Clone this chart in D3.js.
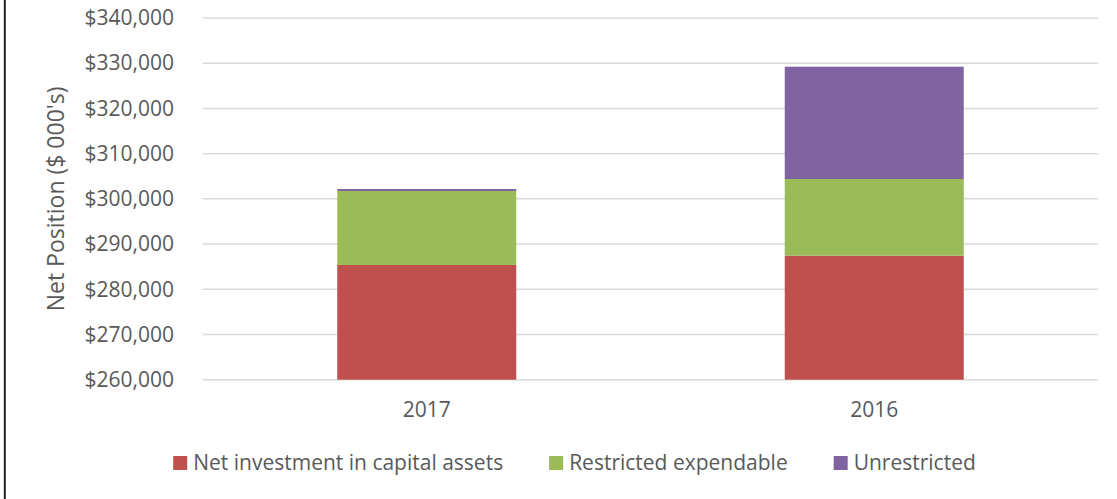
<!DOCTYPE html>
<html>
<head>
<meta charset="utf-8">
<script src="https://cdn.jsdelivr.net/npm/d3@7"></script>
<style>
  html, body { margin: 0; padding: 0; background: #fff; }
  svg text { font-family: "Open Sans", sans-serif; fill: #595959; }
</style>
</head>
<body>
<div id="chart"></div>
<script>
// data
var years = ['2017', '2016'];
var seriesNames = ['Net investment in capital assets', 'Restricted expendable', 'Unrestricted'];
var netInvestment = [285370, 287430];
var restricted = [16370, 16960];
var unrestricted = [440, 24840];
var yTicks = [260000, 270000, 280000, 290000, 300000, 310000, 320000, 330000, 340000];
var colors = ['#C0504D', '#9BBB59', '#8064A2'];

(function(){
    var W = 1117, H = 499;
    var pLeft = 203, pRight = 1098, pTop = 18, pBottom = 379.7;
    var fs = '21px';

    var svg = d3.select('#chart').append('svg')
        .attr('width', W).attr('height', H);

    // left frame edge
    svg.append('line')
        .attr('x1', 4.8).attr('x2', 4.8).attr('y1', 0).attr('y2', H)
        .attr('stroke', '#222').attr('stroke-width', 2);

    var x = d3.scaleBand().domain(years).range([pLeft, pRight])
        .paddingInner(0.6).paddingOuter(0.3);
    var y = d3.scaleLinear().domain([260000, 340000]).range([pBottom, pTop]);

    // grid
    svg.append('g').selectAll('line').data(yTicks).enter().append('line')
        .attr('x1', pLeft).attr('x2', pRight)
        .attr('y1', function(d){ return y(d); })
        .attr('y2', function(d){ return y(d); })
        .attr('stroke', '#D9D9D9').attr('stroke-width', 1.5);

    // stacked bars, first layer starts at the axis floor
    var rows = years.map(function(yr, i){
        return { year: yr, s0: netInvestment[i], s1: restricted[i], s2: unrestricted[i] };
    });
    var layers = d3.stack().keys(['s0', 's1', 's2'])(rows);

    svg.append('g').selectAll('g.layer').data(layers).enter().append('g')
        .attr('class', 'layer')
        .attr('fill', function(d, i){ return colors[i]; })
        .selectAll('rect').data(function(d){ return d; }).enter().append('rect')
        .attr('x', function(d){ return x(d.data.year); })
        .attr('width', x.bandwidth())
        .attr('y', function(d){ return y(d[1]); })
        .attr('height', function(d){
            var lo = d[0] === 0 ? 260000 : d[0];
            return y(lo) - y(d[1]);
        });

    // y axis labels
    var yAxis = d3.axisLeft(y).tickValues(yTicks)
        .tickFormat(function(d){ return '$' + d3.format(',')(d); })
        .tickSize(0).tickPadding(0);
    var ya = svg.append('g').attr('transform', 'translate(174,0)').call(yAxis);
    ya.select('.domain').remove();
    ya.selectAll('text')
        .style('font-size', fs).attr('fill', '#595959')
        .attr('font-family', '"Open Sans", sans-serif');

    // x axis labels
    var xAxis = d3.axisBottom(x).tickSize(0).tickPadding(0);
    var xa = svg.append('g').attr('transform', 'translate(0,' + pBottom + ')').call(xAxis);
    xa.select('.domain').remove();
    xa.selectAll('text')
        .attr('dy', null).attr('y', 37)
        .style('font-size', fs).attr('fill', '#595959')
        .attr('font-family', '"Open Sans", sans-serif');

    // y title
    svg.append('text')
        .attr('transform', 'translate(64,' + ((pTop + pBottom) / 2) + ') rotate(-90)')
        .attr('text-anchor', 'middle')
        .style('font-size', '23px')
        .text("Net Position ($ 000's)");

    // legend
    var items = svg.append('g').selectAll('g.item').data(seriesNames).enter().append('g')
        .attr('class', 'item');
    items.append('rect')
        .attr('width', 14).attr('height', 14).attr('y', -14)
        .attr('fill', function(d, i){ return colors[i]; });
    items.append('text')
        .attr('x', 20).attr('y', 0)
        .style('font-size', fs)
        .text(function(d){ return d; });
    var offs = 0, xs = [];
    items.each(function(){
        xs.push(offs);
        offs = offs + this.getBBox().width + 46;
    });
    var lx = 574.5 - (offs - 46) / 2;
    items.attr('transform', function(d, i){
        return 'translate(' + (lx + xs[i]) + ',470)';
    });
})();
</script>
</body>
</html>
